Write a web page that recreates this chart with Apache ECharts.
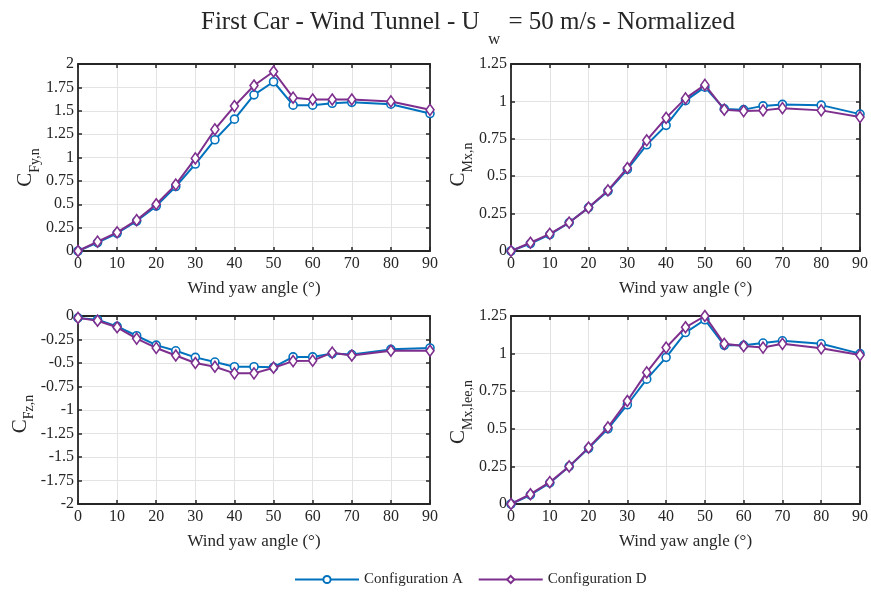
<!DOCTYPE html>
<html>
<head>
<meta charset="utf-8">
<script src="https://cdn.jsdelivr.net/npm/echarts@6/dist/echarts.min.js"></script>
<style>
html,body{margin:0;padding:0;background:#fff;}
#chart{width:871px;height:592px;}
</style>
</head>
<body>
<div id="chart"></div>
<script>
// ---- data ----
const angles = [0, 5, 10, 15, 20, 25, 30, 35, 40, 45, 50, 55, 60, 65, 70, 80, 90];
const cfyA = [0, 0.09, 0.19, 0.32, 0.48, 0.69, 0.93, 1.19, 1.41, 1.67, 1.81, 1.56, 1.56, 1.58, 1.59, 1.57, 1.47];
const cfyD = [0, 0.10, 0.20, 0.33, 0.50, 0.71, 0.99, 1.30, 1.55, 1.77, 1.92, 1.64, 1.62, 1.62, 1.62, 1.60, 1.51];
const cmxA = [0, 0.05, 0.11, 0.19, 0.29, 0.40, 0.545, 0.71, 0.84, 1.005, 1.095, 0.95, 0.945, 0.97, 0.98, 0.975, 0.915];
const cmxD = [0, 0.055, 0.115, 0.19, 0.29, 0.405, 0.555, 0.74, 0.89, 1.02, 1.11, 0.945, 0.935, 0.94, 0.955, 0.94, 0.895];
const cfzA = [-0.02, -0.04, -0.11, -0.21, -0.31, -0.37, -0.44, -0.49, -0.54, -0.54, -0.545, -0.435, -0.435, -0.40, -0.41, -0.355, -0.34];
const cfzD = [-0.02, -0.05, -0.12, -0.24, -0.34, -0.42, -0.50, -0.54, -0.61, -0.61, -0.55, -0.48, -0.475, -0.39, -0.42, -0.37, -0.37];
const cmxLeeA = [0, 0.06, 0.14, 0.25, 0.37, 0.50, 0.66, 0.83, 0.975, 1.14, 1.225, 1.055, 1.055, 1.07, 1.085, 1.065, 1.0];
const cmxLeeD = [0, 0.065, 0.145, 0.25, 0.375, 0.51, 0.685, 0.875, 1.04, 1.175, 1.25, 1.065, 1.05, 1.04, 1.065, 1.035, 0.99];

const seriesNames = ['Configuration A', 'Configuration D'];
const xAxisTitle = 'Wind yaw angle (°)';
const panels = [
  { sub: 'Fy,n', min: 0, max: 2, A: cfyA, D: cfyD, pad: 20 },
  { sub: 'Mx,n', min: 0, max: 1.25, A: cmxA, D: cmxD, pad: 14 },
  { sub: 'Fz,n', min: -2, max: 0, A: cfzA, D: cfzD, pad: 8 },
  { sub: 'Mx,lee,n', min: 0, max: 1.25, A: cmxLeeA, D: cmxLeeD, pad: 4 }
];

// ---- layout / style ----
const FONT = '"Liberation Serif", "Times New Roman", serif';
const AX = '#262626';
const colA = '#0072BD';
const colD = '#7E2F8E';
const gridPos = [
  { left: 78, top: 64, width: 352, height: 187 },
  { left: 511, top: 64, width: 352, height: 187 },
  { left: 78, top: 316, width: 352, height: 188 },
  { left: 511, top: 316, width: 352, height: 188 }
];

const grids = [], xAxes = [], yAxes = [], series = [];
panels.forEach((p, i) => {
  grids.push(Object.assign({ containLabel: false, show: false }, gridPos[i]));
  xAxes.push({
    type: 'value', gridIndex: i, min: 0, max: 90, interval: 10, position: 'bottom',
    name: xAxisTitle, nameLocation: 'middle', nameGap: 29,
    nameTextStyle: { fontFamily: FONT, fontSize: 17, color: AX },
    axisLine: { show: true, onZero: false, lineStyle: { color: AX, width: 1.8 } },
    axisTick: { show: true, inside: true, length: 4, lineStyle: { color: AX, width: 1.5 } },
    axisLabel: { fontFamily: FONT, fontSize: 16, color: AX, margin: 5 },
    splitLine: { show: true, lineStyle: { color: '#e3e3e3', width: 1 } }
  });
  xAxes.push({
    type: 'value', gridIndex: i, min: 0, max: 90, interval: 10, position: 'top',
    axisLine: { show: true, onZero: false, lineStyle: { color: AX, width: 1.8 } },
    axisTick: { show: true, inside: true, length: 4, lineStyle: { color: AX, width: 1.5 } },
    axisLabel: { show: false }, splitLine: { show: false }
  });
  yAxes.push({
    type: 'value', gridIndex: i, min: p.min, max: p.max, interval: 0.25, position: 'left',
    name: '{c|C}{s|' + p.sub + '}', nameLocation: 'middle', nameRotate: 90, nameGap: 40,
    nameTextStyle: {
      fontFamily: FONT, color: AX,
      rich: {
        c: { fontFamily: FONT, fontSize: 21, lineHeight: 22, verticalAlign: 'top', color: AX },
        s: { fontFamily: FONT, fontSize: 14, lineHeight: 14, verticalAlign: 'top', padding: [13, p.pad, 0, 0], color: AX }
      }
    },
    axisLine: { show: true, onZero: false, lineStyle: { color: AX, width: 1.8 } },
    axisTick: { show: true, inside: true, length: 4, lineStyle: { color: AX, width: 1.5 } },
    axisLabel: { fontFamily: FONT, fontSize: 16, color: AX, margin: 4 },
    splitLine: { show: true, lineStyle: { color: '#e3e3e3', width: 1 } }
  });
  yAxes.push({
    type: 'value', gridIndex: i, min: p.min, max: p.max, interval: 0.25, position: 'right',
    axisLine: { show: true, onZero: false, lineStyle: { color: AX, width: 1.8 } },
    axisTick: { show: true, inside: true, length: 4, lineStyle: { color: AX, width: 1.5 } },
    axisLabel: { show: false }, splitLine: { show: false }
  });
  const mk = (arr) => angles.map((a, k) => [a, arr[k]]);
  series.push({
    name: seriesNames[0], type: 'line', xAxisIndex: 2 * i, yAxisIndex: 2 * i,
    data: mk(p.A), symbol: 'circle', symbolSize: 8,
    lineStyle: { color: colA, width: 2 },
    itemStyle: { color: '#fff', borderColor: colA, borderWidth: 1.6 },
    emphasis: { disabled: true }, animation: false, z: 3
  });
  series.push({
    name: seriesNames[1], type: 'line', xAxisIndex: 2 * i, yAxisIndex: 2 * i,
    data: mk(p.D), symbol: 'diamond', symbolSize: [8, 11],
    lineStyle: { color: colD, width: 2 },
    itemStyle: { color: '#fff', borderColor: colD, borderWidth: 1.6 },
    emphasis: { disabled: true }, animation: false, z: 4
  });
});

const chart = echarts.init(document.getElementById('chart'), null, { renderer: 'canvas' });
chart.setOption({
  backgroundColor: '#fff',
  animation: false,
  title: {
    text: '{m|First Car - Wind Tunnel - U }{s|w}{m| = 50 m/s - Normalized}',
    left: 196, top: 5,
    textStyle: {
      fontFamily: FONT, color: AX, fontWeight: 'normal',
      rich: {
        m: { fontFamily: FONT, fontSize: 25, fontWeight: 'normal', lineHeight: 28, verticalAlign: 'top', color: AX },
        s: { fontFamily: FONT, fontSize: 17, fontWeight: 'normal', lineHeight: 17, verticalAlign: 'top', padding: [21, 2, 0, 2], color: AX }
      }
    }
  },
  legend: {
    data: seriesNames, top: 567, left: 289,
    itemWidth: 64, itemHeight: 9, itemGap: 15,
    textStyle: { fontFamily: FONT, fontSize: 15, color: AX }
  },
  grid: grids,
  xAxis: xAxes,
  yAxis: yAxes,
  series: series
});
</script>
</body>
</html>
